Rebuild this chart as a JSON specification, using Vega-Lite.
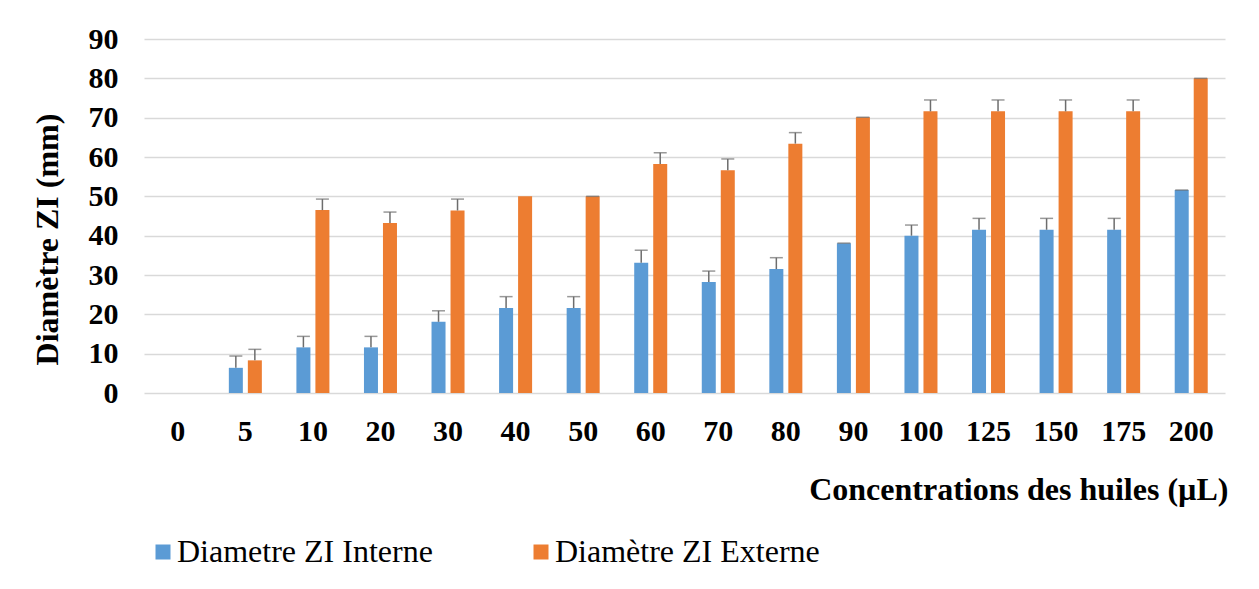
{
  "$schema": "https://vega.github.io/schema/vega-lite/v6.json",
  "autosize": {"type": "none"},
  "padding": {"left": 144, "top": 39, "right": 34, "bottom": 196},
  "width": 1081,
  "height": 354,
  "background": "white",
  "config": {
    "view": {"stroke": null},
    "font": "Liberation Serif",
    "axisY": {
      "values": [0, 10, 20, 30, 40, 50, 60, 70, 80, 90],
      "labelOverlap": false,
      "grid": true,
      "gridColor": "#d9d9d9",
      "gridWidth": 1.5,
      "ticks": false,
      "tickSize": 0,
      "domain": false,
      "labelFont": "Liberation Serif",
      "labelFontSize": 30,
      "labelFontWeight": "bold",
      "labelColor": "black",
      "labelPadding": 26,
      "labelBaseline": "middle",
      "titleFont": "Liberation Serif",
      "titleFontSize": 32,
      "titleFontWeight": "bold",
      "titleColor": "black",
      "titleAngle": -90,
      "titleAlign": "center",
      "titleBaseline": "alphabetic",
      "titleX": -87,
      "titleY": 200
    }
  },
  "data": {
    "values": [
      {"conc": "0", "serie": "Diametre ZI Interne", "value": 0, "hi": null},
      {"conc": "0", "serie": "Diamètre ZI Externe", "value": 0, "hi": null},
      {"conc": "5", "serie": "Diametre ZI Interne", "value": 6.4, "hi": 9.4},
      {"conc": "5", "serie": "Diamètre ZI Externe", "value": 8.3, "hi": 11.1},
      {"conc": "10", "serie": "Diametre ZI Interne", "value": 11.6, "hi": 14.4},
      {"conc": "10", "serie": "Diamètre ZI Externe", "value": 46.5, "hi": 49.3},
      {"conc": "20", "serie": "Diametre ZI Interne", "value": 11.6, "hi": 14.4},
      {"conc": "20", "serie": "Diamètre ZI Externe", "value": 43.2, "hi": 46.0},
      {"conc": "30", "serie": "Diametre ZI Interne", "value": 18.1, "hi": 20.9},
      {"conc": "30", "serie": "Diamètre ZI Externe", "value": 46.4, "hi": 49.3},
      {"conc": "40", "serie": "Diametre ZI Interne", "value": 21.6, "hi": 24.5},
      {"conc": "40", "serie": "Diamètre ZI Externe", "value": 50.0, "hi": null},
      {"conc": "50", "serie": "Diametre ZI Interne", "value": 21.6, "hi": 24.5},
      {"conc": "50", "serie": "Diamètre ZI Externe", "value": 50.0, "hi": 50.0},
      {"conc": "60", "serie": "Diametre ZI Interne", "value": 33.1, "hi": 36.3},
      {"conc": "60", "serie": "Diamètre ZI Externe", "value": 58.2, "hi": 61.1},
      {"conc": "70", "serie": "Diametre ZI Interne", "value": 28.2, "hi": 31.0},
      {"conc": "70", "serie": "Diamètre ZI Externe", "value": 56.6, "hi": 59.5},
      {"conc": "80", "serie": "Diametre ZI Interne", "value": 31.5, "hi": 34.4},
      {"conc": "80", "serie": "Diamètre ZI Externe", "value": 63.4, "hi": 66.2},
      {"conc": "90", "serie": "Diametre ZI Interne", "value": 38.1, "hi": 38.1},
      {"conc": "90", "serie": "Diamètre ZI Externe", "value": 70.1, "hi": 70.1},
      {"conc": "100", "serie": "Diametre ZI Interne", "value": 40.0, "hi": 42.7},
      {"conc": "100", "serie": "Diamètre ZI Externe", "value": 71.6, "hi": 74.5},
      {"conc": "125", "serie": "Diametre ZI Interne", "value": 41.5, "hi": 44.4},
      {"conc": "125", "serie": "Diamètre ZI Externe", "value": 71.6, "hi": 74.5},
      {"conc": "150", "serie": "Diametre ZI Interne", "value": 41.5, "hi": 44.4},
      {"conc": "150", "serie": "Diamètre ZI Externe", "value": 71.6, "hi": 74.5},
      {"conc": "175", "serie": "Diametre ZI Interne", "value": 41.5, "hi": 44.4},
      {"conc": "175", "serie": "Diamètre ZI Externe", "value": 71.6, "hi": 74.5},
      {"conc": "200", "serie": "Diametre ZI Interne", "value": 51.6, "hi": 51.6},
      {"conc": "200", "serie": "Diamètre ZI Externe", "value": 80.0, "hi": 80.0}
    ]
  },
  "encoding": {
    "x": {
      "field": "conc",
      "type": "nominal",
      "sort": null,
      "scale": {"paddingInner": 0, "paddingOuter": 0},
      "axis": {
        "title": "Concentrations des huiles (µL)",
        "labelAngle": 0,
        "labelFont": "Liberation Serif",
        "labelFontSize": 30,
        "labelFontWeight": "bold",
        "labelColor": "black",
        "labelBaseline": "alphabetic",
        "labelPadding": 47,
        "ticks": false,
        "tickSize": 0,
        "domain": false,
        "titleFont": "Liberation Serif",
        "titleFontSize": 32,
        "titleFontWeight": "bold",
        "titleColor": "black",
        "titleAnchor": "end",
        "titleAlign": "right",
        "titleBaseline": "alphabetic",
        "titleX": 1084,
        "titleY": 106
      }
    },
    "xOffset": {
      "field": "serie",
      "type": "nominal",
      "sort": ["Diametre ZI Interne", "Diamètre ZI Externe"],
      "scale": {"paddingInner": 0.263, "paddingOuter": 0.909}
    }
  },
  "layer": [
    {
      "mark": {"type": "bar"},
      "encoding": {
        "y": {
          "field": "value",
          "type": "quantitative",
          "scale": {"domain": [0, 90], "nice": false},
          "axis": {"title": "Diamètre ZI (mm)"}
        },
        "color": {
          "field": "serie",
          "type": "nominal",
          "sort": ["Diametre ZI Interne", "Diamètre ZI Externe"],
          "scale": {
            "domain": ["Diametre ZI Interne", "Diamètre ZI Externe"],
            "range": ["#5B9BD5", "#ED7D31"]
          },
          "legend": {
            "title": null,
            "orient": "none",
            "legendX": 3,
            "legendY": 497,
            "direction": "horizontal",
            "columnPadding": 92,
            "symbolType": "square",
            "symbolSize": 225,
            "symbolStrokeWidth": 0,
            "labelFont": "Liberation Serif",
            "labelFontSize": 32,
            "labelColor": "black",
            "labelOffset": -2,
            "labelLimit": 400
          }
        }
      }
    },
    {
      "mark": {"type": "rule", "color": "#6d6d6d", "strokeWidth": 1.5},
      "encoding": {
        "y": {"field": "value", "type": "quantitative", "axis": {"title": "Diamètre ZI (mm)"}},
        "y2": {"field": "hi"}
      }
    },
    {
      "mark": {"type": "tick", "color": "#6d6d6d", "thickness": 1.5, "size": 13, "orient": "horizontal"},
      "encoding": {
        "y": {"field": "hi", "type": "quantitative", "axis": {"title": "Diamètre ZI (mm)"}}
      }
    }
  ]
}
